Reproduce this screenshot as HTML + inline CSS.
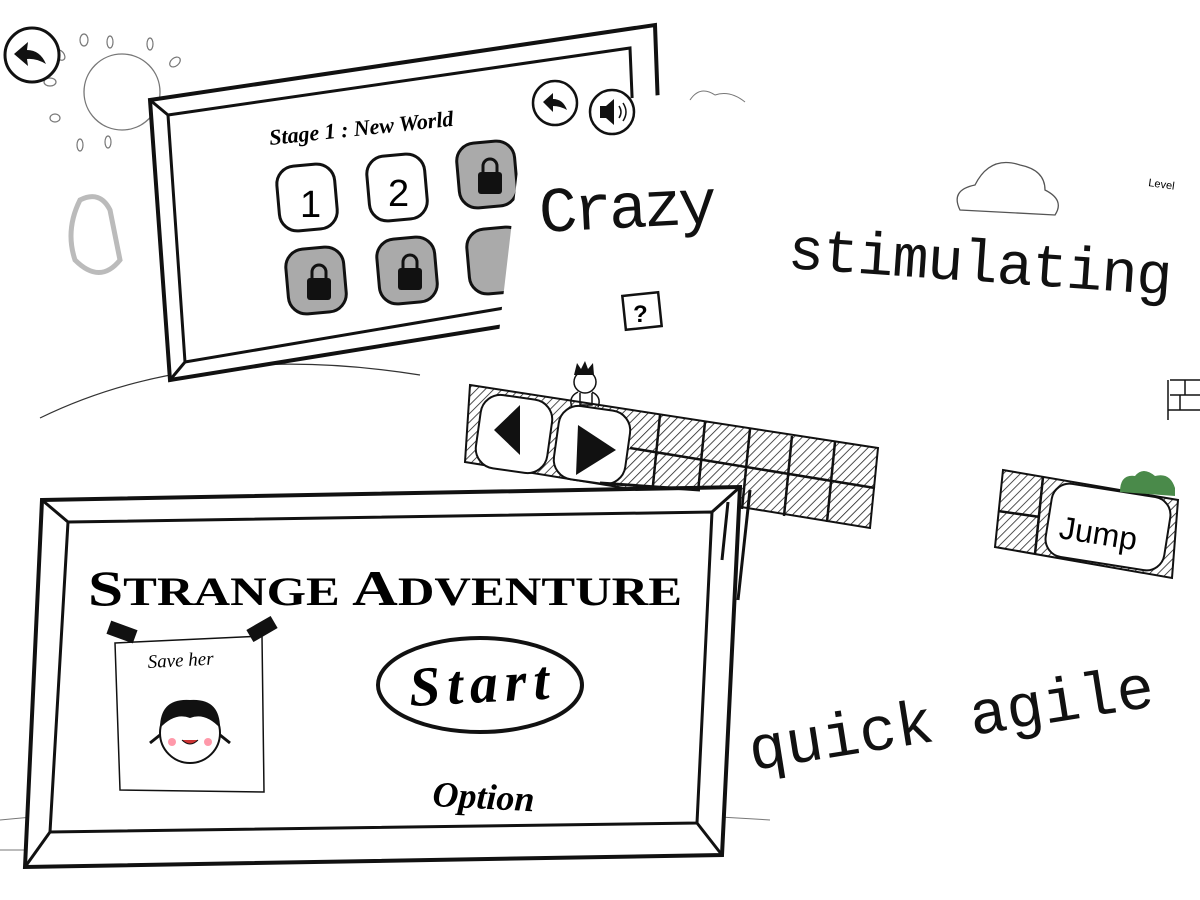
<!DOCTYPE html>
<html><head><meta charset="utf-8"><style>
html,body{margin:0;padding:0;background:#fff;width:1200px;height:900px;overflow:hidden}
svg{display:block}
.hw{font-family:"Liberation Mono","DejaVu Sans Mono",monospace;fill:#111}
</style></head><body>
<svg width="1200" height="900" viewBox="0 0 1200 900" xmlns="http://www.w3.org/2000/svg">
<defs>
<pattern id="h" width="6" height="6" patternUnits="userSpaceOnUse" patternTransform="rotate(45)">
<rect width="6" height="6" fill="#fff"/><line x1="0" y1="0" x2="0" y2="6" stroke="#222" stroke-width="1.6"/>
</pattern>
</defs>
<path d="M40 418 Q200 340 420 375" fill="none" stroke="#333" stroke-width="1.2"/>
<path d="M0 820 Q300 790 770 820" fill="none" stroke="#777" stroke-width="1"/>
<path d="M0 850 L30 850" stroke="#777"/>
<circle cx="122" cy="92" r="38" fill="none" stroke="#777" stroke-width="1.3"/>
<g fill="none" stroke="#777" stroke-width="1.2">
<ellipse cx="84" cy="40" rx="4" ry="6"/><ellipse cx="110" cy="42" rx="3" ry="6"/><ellipse cx="150" cy="44" rx="3" ry="6"/>
<ellipse cx="60" cy="55" rx="4" ry="6" transform="rotate(-40 60 55)"/><ellipse cx="175" cy="62" rx="4" ry="6" transform="rotate(50 175 62)"/>
<ellipse cx="50" cy="82" rx="6" ry="4"/><ellipse cx="55" cy="118" rx="5" ry="4"/><ellipse cx="80" cy="145" rx="3" ry="6"/><ellipse cx="108" cy="142" rx="3" ry="6"/>
</g>
<path d="M80 200 Q100 190 110 210 L120 260 Q100 285 75 260 Q65 230 80 200Z" fill="none" stroke="#bbb" stroke-width="5"/>
<circle cx="32" cy="55" r="27" fill="#fff" stroke="#111" stroke-width="3"/>
<path d="M14 54 L28 42 L27 50 Q40 50 46 64 Q36 58 27 59 L28 66Z" fill="#111"/>
<polygon points="150,100 655,25 665,300 170,380" fill="#fff" stroke="#111" stroke-width="4"/>
<polygon points="168,115 630,48 640,285 185,362" fill="none" stroke="#111" stroke-width="3"/>
<line x1="150" y1="100" x2="168" y2="115" stroke="#111" stroke-width="3"/>
<line x1="170" y1="380" x2="185" y2="362" stroke="#111" stroke-width="3"/>
<text x="270" y="145" font-family="Liberation Serif,serif" font-style="italic" font-weight="bold" font-size="22" transform="rotate(-6 270 145)">Stage 1  :  New World</text>
<g stroke="#111" stroke-width="3">
<rect x="278" y="165" width="58" height="65" rx="18" fill="#fff" transform="rotate(-5 307 197)"/>
<rect x="368" y="155" width="58" height="65" rx="18" fill="#fff" transform="rotate(-5 397 187)"/>
<rect x="458" y="142" width="58" height="65" rx="18" fill="#aaa" transform="rotate(-5 487 175)"/>
<rect x="287" y="248" width="58" height="65" rx="18" fill="#aaa" transform="rotate(-5 316 280)"/>
<rect x="378" y="238" width="58" height="65" rx="18" fill="#aaa" transform="rotate(-5 407 270)"/>
<rect x="468" y="228" width="58" height="65" rx="18" fill="#aaa" transform="rotate(-5 497 260)"/>
</g>
<text x="300" y="217" font-family="Liberation Sans,sans-serif" font-size="38">1</text>
<text x="388" y="206" font-family="Liberation Sans,sans-serif" font-size="38">2</text>
<g fill="#111"><rect x="478" y="172" width="24" height="22" rx="3"/><rect x="307" y="278" width="24" height="22" rx="3"/><rect x="398" y="268" width="24" height="22" rx="3"/></g>
<g fill="none" stroke="#111" stroke-width="3"><path d="M483 173 v-7 a7 7 0 0 1 14 0 v7"/><path d="M312 279 v-7 a7 7 0 0 1 14 0 v7"/><path d="M403 269 v-7 a7 7 0 0 1 14 0 v7"/></g>
<polygon points="525,110 660,95 1200,60 1200,900 780,900 760,470 490,410" fill="#fff"/>
<circle cx="555" cy="103" r="22" fill="#fff" stroke="#111" stroke-width="2.5"/>
<path d="M543 102 L553 93 L553 99 Q563 99 567 110 Q560 106 553 106 L553 112Z" fill="#111"/>
<circle cx="612" cy="112" r="22" fill="#fff" stroke="#111" stroke-width="2.5"/>
<path d="M600 106 h6 l8 -7 v26 l-8 -7 h-6Z" fill="#111"/>
<path d="M619 106 q4 6 0 12 M623 103 q6 9 0 18" fill="none" stroke="#111" stroke-width="1.5"/>
<path d="M960 210 Q950 190 975 185 Q990 155 1020 165 Q1045 170 1045 190 Q1065 200 1055 215 Z" fill="#fff" stroke="#555" stroke-width="1.3"/>
<path d="M690 100 Q700 85 715 95 Q730 90 745 102" fill="none" stroke="#777"/>
<text x="1148" y="186" font-family="Liberation Sans,sans-serif" font-size="11" transform="rotate(8 1148 186)">Level</text>
<text class="hw" x="540" y="232" font-size="64" textLength="178" transform="rotate(-3 540 232)">Crazy</text>
<text class="hw" x="787" y="268" font-size="60" textLength="385" transform="rotate(4 787 268)">stimulating</text>
<text class="hw" x="752" y="770" font-size="62" transform="rotate(-9 752 770)">quick agile</text>
<rect x="624" y="294" width="36" height="34" fill="#fff" stroke="#111" stroke-width="2.5" transform="rotate(-6 642 311)"/>
<text x="633" y="322" font-family="Liberation Sans,sans-serif" font-weight="bold" font-size="24">?</text>
<g fill="none" stroke="#111" stroke-width="1.5"><path d="M1170 380 h30 M1170 395 h30 M1168 410 h32 M1168 380 v40 M1185 380 v15 M1180 395 v15"/></g>
<polygon points="470,385 878,448 870,528 465,462" fill="url(#h)" stroke="#111" stroke-width="2"/>
<g stroke="#111" stroke-width="2.5"><line x1="630" y1="448" x2="875" y2="488"/>
<line x1="660" y1="415" x2="652" y2="495"/><line x1="705" y1="422" x2="697" y2="502"/><line x1="750" y1="429" x2="742" y2="509"/><line x1="792" y1="436" x2="784" y2="516"/><line x1="835" y1="442" x2="827" y2="522"/></g>
<rect x="478" y="397" width="72" height="74" rx="20" fill="#fff" stroke="#111" stroke-width="2" transform="rotate(8 514 434)"/>
<rect x="556" y="408" width="72" height="74" rx="20" fill="#fff" stroke="#111" stroke-width="2" transform="rotate(8 592 445)"/>
<polygon points="494,430 520,405 520,455" fill="#111"/>
<polygon points="616,450 578,425 576,475" fill="#111"/>
<circle cx="585" cy="382" r="11" fill="#fff" stroke="#111" stroke-width="1.5"/>
<path d="M574 375 l3 -12 l4 6 l4 -8 l3 8 l5 -6 l1 12Z" fill="#111"/>
<path d="M578 392 q-10 5 -6 15 M592 392 q10 5 6 15 M580 393 v12 h12 v-12" fill="none" stroke="#111" stroke-width="1.5"/>
<polygon points="1003,470 1178,500 1172,578 995,547" fill="url(#h)" stroke="#111" stroke-width="2"/>
<line x1="1043" y1="477" x2="1035" y2="554" stroke="#111" stroke-width="2.5"/>
<line x1="998" y1="511" x2="1040" y2="517" stroke="#111" stroke-width="2.5"/>
<rect x="1048" y="490" width="120" height="74" rx="18" fill="#fff" stroke="#111" stroke-width="2" transform="rotate(9 1108 527)"/>
<text x="1058" y="538" font-family="Liberation Sans,sans-serif" font-size="32" transform="rotate(9 1058 538)">Jump</text>
<path d="M1120 492 q0 -18 15 -16 q8 -10 20 0 q15 -4 20 12 l0 8Z" fill="#4a8a4a"/>
<polygon points="42,500 740,487 722,855 25,867" fill="#fff" stroke="#111" stroke-width="4"/>
<polygon points="68,522 712,512 697,823 50,832" fill="none" stroke="#111" stroke-width="3"/>
<g stroke="#111" stroke-width="3"><line x1="42" y1="500" x2="68" y2="522"/><line x1="740" y1="487" x2="712" y2="512"/><line x1="722" y1="855" x2="697" y2="823"/><line x1="25" y1="867" x2="50" y2="832"/>
<line x1="600" y1="483" x2="700" y2="490"/><line x1="750" y1="490" x2="738" y2="600"/><line x1="728" y1="502" x2="722" y2="560"/></g>
<text x="88" y="605" font-family="Liberation Serif,serif" font-weight="bold" font-size="50" textLength="594" lengthAdjust="spacingAndGlyphs">S<tspan font-size="40">TRANGE</tspan> A<tspan font-size="40">DVENTURE</tspan></text>
<polygon points="115,643 262,636 264,792 120,790" fill="#fff" stroke="#111" stroke-width="1.5"/>
<rect x="108" y="625" width="28" height="14" fill="#111" transform="rotate(20 122 632)"/>
<rect x="248" y="622" width="28" height="14" fill="#111" transform="rotate(-30 262 629)"/>
<text x="148" y="668" font-family="Liberation Serif,serif" font-style="italic" font-size="19" transform="rotate(-3 148 668)">Save her</text>
<circle cx="190" cy="733" r="30" fill="#fff" stroke="#111" stroke-width="2"/>
<path d="M160 728 Q160 698 190 700 Q220 698 220 728 Q205 712 190 718 Q175 712 160 728Z" fill="#111"/>
<path d="M160 735 l-10 8 M220 735 l10 8" stroke="#111" stroke-width="3"/>
<path d="M182 740 q8 8 16 0" fill="#c33" stroke="#111"/>
<circle cx="172" cy="742" r="4" fill="#f9a"/><circle cx="208" cy="742" r="4" fill="#f9a"/>
<ellipse cx="480" cy="685" rx="102" ry="47" fill="#fff" stroke="#111" stroke-width="4"/>
<text x="410" y="706" font-family="Liberation Serif,serif" font-style="italic" font-weight="bold" font-size="56" textLength="140" transform="rotate(-3 410 706)">Start</text>
<text x="432" y="806" font-family="Liberation Serif,serif" font-style="italic" font-weight="bold" font-size="36" transform="rotate(3 432 806)">Option</text>
</svg>
</body></html>
